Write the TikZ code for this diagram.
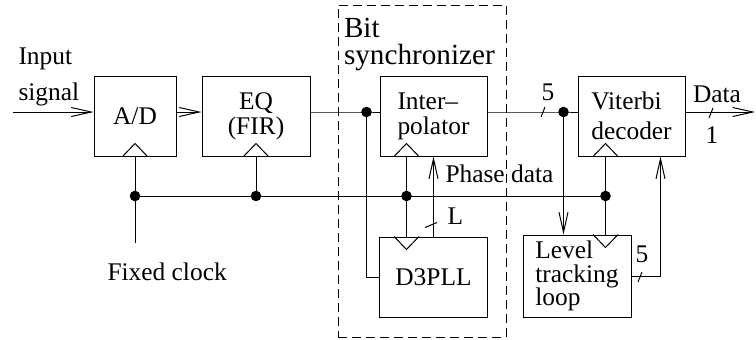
\documentclass[tikz,border=0pt]{standalone}
\usepackage{fontspec}
\setmainfont{Liberation Serif}
\usetikzlibrary{arrows.meta,positioning}

\newcommand{\lbl}[1]{\fontsize{12.7pt}{#1}\selectfont}
\newcommand{\clkup}[1]{\draw (#1) ++(-6.25pt,0pt) -- ++(6.25pt,6.5pt) -- ++(6.25pt,-6.5pt);}
\newcommand{\clkdown}[1]{\draw (#1) ++(-6.25pt,0pt) -- ++(6.25pt,-6.5pt) -- ++(6.25pt,6.5pt);}
\newcommand{\hbus}[1]{\draw (#1) ++(-1pt,-2.5pt) -- ++(2pt,5pt);}
\newcommand{\vbus}[1]{\draw (#1) ++(-3pt,-1.25pt) -- ++(6pt,2.5pt);}

\begin{document}
\begin{tikzpicture}[x=0.5pt,y=-0.5pt,line width=0.5pt,
    >={Straight Barb[length=10pt,width=4.5pt]},
    block/.style={draw, minimum height=40pt, inner sep=0pt, align=left, font=\lbl{12.5pt}},
    dot/.style={circle, fill, inner sep=0pt, minimum size=5.3pt},
    txt/.style={inner sep=0pt, align=left, font=\lbl{15pt}}]
        \useasboundingbox (0,0) rectangle (756,339);

        \node[block, minimum width=41pt] (ad) at (135,116) {A/D};
        \node[block, minimum width=54pt, align=center] (eq) [right=12.5pt of ad] {EQ\\(FIR)};
        \node[block, minimum width=53.5pt] (interp) [right=34.5pt of eq] {Inter–\\polator};
        \node[block, minimum width=53.5pt, font=\lbl{15pt}] (viterbi) [right=45pt of interp] {Viterbi\\decoder};
        \node[block, minimum width=54pt] (d3pll) [below=40pt of interp] {D3PLL};
        \node[block, minimum width=54pt, minimum height=41pt, font=\lbl{11.8pt}] (level) at (577,276) {Level\\tracking\\loop};

        \node[draw, dashed, dash pattern=on 4.5pt off 2.5pt, inner sep=0pt,
              minimum width=84pt, minimum height=166pt] (sync) at (422,171) {};
        \node[txt, anchor=north west, font=\fontsize{14.6pt}{13.6pt}\selectfont] (synclbl)
              at ([xshift=3pt,yshift=-6.5pt]sync.north west) {Bit\\synchronizer};

        \coordinate (input) at (13,112);
        \coordinate (out) at (755,112);
        \coordinate (fixed) at (135,243);
        \coordinate (bus) at (0,196);
        \coordinate (ck3) at ([xshift=13.5pt]interp.south west);
        \coordinate (ck4) at ([xshift=14pt]viterbi.south west);
        \coordinate (s1) at ([xshift=-6.5pt,yshift=2pt]interp.west);
        \coordinate (s2) at ([xshift=-7pt,yshift=2pt]viterbi.west);

        % signal path
        \draw[->] (input) -- ([yshift=2pt]ad.west);
        \draw[->] ([yshift=2pt]ad.east) -- ([yshift=2pt]eq.west);
        \draw ([yshift=2pt]eq.east) -- (s1) -- ([yshift=2pt]interp.west);
        \draw (s1) |- (d3pll.west);
        \draw ([yshift=2pt]interp.east) -- (s2) -- ([yshift=2pt]viterbi.west);
        \draw[->] (s2) -- (s2 |- level.north);
        \draw[->] ([yshift=2pt]viterbi.east) -- (out);
        \draw[->] (d3pll.north) -- (interp.south);
        \draw[->] (level.east) -| ([xshift=-12.5pt]viterbi.south east);

        % clocks
        \draw (ad.south) -- (fixed);
        \draw (eq.south) -- (eq.south |- bus);
        \draw (ad.south |- bus) -- (ck4 |- bus);
        \draw (ck3) -- (ck3 |- d3pll.north);
        \draw (ck4) -- (ck4 |- level.north);
        \clkup{ad.south}
        \clkup{eq.south}
        \clkup{ck3}
        \clkup{ck4}
        \clkdown{ck3 |- d3pll.north}
        \clkdown{ck4 |- level.north}

        \node[dot] (d1) at (s1) {};
        \node[dot] (d2) at (s2) {};
        \node[dot] (b1) at (ad.south |- bus) {};
        \node[dot] (b2) at (eq.south |- bus) {};
        \node[dot] (b3) at (ck3 |- bus) {};
        \node[dot] (b4) at (ck4 |- bus) {};

        % bus widths
        \hbus{543,112}
        \hbus{711,113}
        \hbus{640,277}
        \vbus{431,225}

        % labels
        \node[txt, anchor=north west, font=\lbl{18pt}] (inlbl) at (18,47) {Input\\signal};
        \node[txt, anchor=base west] (fixlbl) at (107,280) {Fixed clock};
        \node[txt, anchor=base west] (phaselbl) at (445,182) {Phase data};
        \node[txt, anchor=base west] (llbl) at (447,224) {L};
        \node[txt, anchor=base] (w5a) at (548,100) {5};
        \node[txt, anchor=base] (datalbl) at (717,102) {Data};
        \node[txt, anchor=base] (w1) at (712,143) {1};
        \node[txt, anchor=base] (w5b) at (642,262) {5};
      \end{tikzpicture}
\end{document}
